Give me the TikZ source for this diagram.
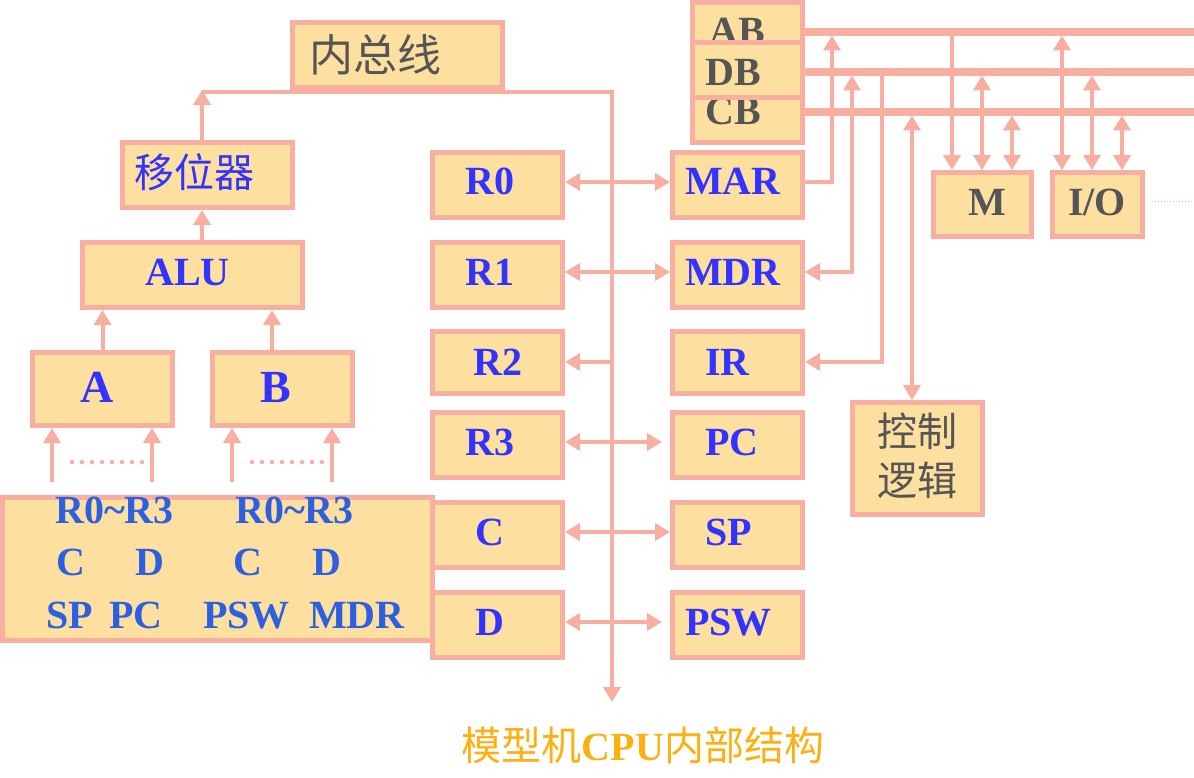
\documentclass[tikz,border=0pt]{standalone}
\usepackage{fontspec}
\setmainfont{Liberation Serif}
\newfontfamily\cjk{Noto Sans CJK SC}
\usetikzlibrary{arrows.meta}
\definecolor{edge}{RGB}{248,174,160}
\definecolor{boxfill}{RGB}{253,223,160}
\definecolor{regblue}{RGB}{51,51,255}
\definecolor{bigblue}{RGB}{45,95,225}
\definecolor{graytext}{RGB}{85,85,85}
\definecolor{titleorange}{RGB}{255,176,16}
\begin{document}
\begin{tikzpicture}[x=1pt,y=-1pt,
  box/.style={draw=edge, fill=boxfill, line width=5pt, inner sep=0pt},
  conn/.style={draw=edge, line width=4pt},
  busline/.style={draw=edge, line width=7.5pt},
  dotline/.style={draw=edge, line width=4.5pt, line cap=round, dash pattern=on 0pt off 10pt},
  >={Triangle[length=15pt,width=17pt]},
  regtext/.style={text=regblue, font=\fontsize{40}{40}\selectfont\bfseries, inner sep=0pt, anchor=base west},
  bigtext/.style={text=bigblue, font=\fontsize{40}{40}\selectfont\bfseries, inner sep=0pt, anchor=base west},
  graybold/.style={text=graytext, font=\fontsize{40}{40}\selectfont\bfseries, inner sep=0pt, anchor=base west},
  cjktext/.style={font=\fontsize{40}{49}\selectfont\cjk, inner sep=0pt, align=center}
]
\fill[white] (0,0) rectangle (1194,778);
\useasboundingbox (0,0) rectangle (1194,778);

% ---------- named coordinates (free ends) ----------
\coordinate (topL) at (202,92);
\coordinate (busTop) at (612,92);
\coordinate (busBot) at (612,702);
\coordinate (aIn1) at (52,482);
\coordinate (aIn2) at (152,482);
\coordinate (bIn1) at (232,482);
\coordinate (bIn2) at (332,482);
\coordinate (abEnd) at (1194,32);
\coordinate (dbEnd) at (1194,72);
\coordinate (cbEnd) at (1194,112);
\coordinate (abMAR) at (832,35.5);
\coordinate (dbMDR) at (852,75.5);
\coordinate (dbIR) at (882,72);
\coordinate (cbCtl) at (912,115.5);
\coordinate (abM) at (952,32);
\coordinate (dbM) at (982,75.5);
\coordinate (cbM) at (1012,115.5);
\coordinate (abIO) at (1062,35.5);
\coordinate (dbIO) at (1092,75.5);
\coordinate (cbIO) at (1122,115.5);
\coordinate (dotEnd) at (1194,202);

% ---------- internal bus ----------
\draw[conn,->] (topL) -- (busTop) -- (busBot);

% ---------- left part boxes ----------
\node[box, minimum width=210pt, minimum height=65pt] (nzx) at (397.5,55) {};
\node[cjktext, text=graytext, font=\fontsize{44}{44}\selectfont\cjk] at (375,55) {内总线};

\node[box, minimum width=170pt, minimum height=65pt] (shifter) at (207.5,175) {};
\node[cjktext, text=regblue] at (194,172) {移位器};

\node[box, minimum width=220pt, minimum height=65pt] (alu) at (192.5,275) {};
\node[regtext] at (145,285) {ALU};

\node[box, minimum width=140pt, minimum height=73pt] (a) at (102.5,389) {};
\node[regtext, font=\fontsize{46}{46}\selectfont\bfseries] at (80,402) {A};
\node[box, minimum width=140pt, minimum height=73pt] (b) at (282.5,389) {};
\node[regtext, font=\fontsize{46}{46}\selectfont\bfseries] at (260,402) {B};

\node[box, minimum width=430pt, minimum height=143pt] (big) at (217.5,569) {};
\node[bigtext] at (55,523) {R0\textasciitilde R3};
\node[bigtext] at (235,523) {R0\textasciitilde R3};
\node[bigtext] at (56,575) {C};
\node[bigtext] at (135,575) {D};
\node[bigtext] at (233,575) {C};
\node[bigtext] at (312,575) {D};
\node[bigtext] at (46,628) {SP};
\node[bigtext] at (109,628) {PC};
\node[bigtext] at (203,628) {PSW};
\node[bigtext] at (309,628) {MDR};

% ---------- register columns ----------
\node[box, minimum width=130pt, minimum height=65pt] (r0) at (497.5,185) {};
\node[box, minimum width=130pt, minimum height=65pt] (r1) at (497.5,275) {};
\node[box, minimum width=130pt, minimum height=62pt] (r2) at (497.5,362) {};
\node[box, minimum width=130pt, minimum height=65pt] (r3) at (497.5,445) {};
\node[box, minimum width=130pt, minimum height=65pt] (rc) at (497.5,535) {};
\node[box, minimum width=130pt, minimum height=65pt] (rd) at (497.5,625) {};
\node[regtext] at (465,195) {R0};
\node[regtext] at (465,285) {R1};
\node[regtext] at (473,375) {R2};
\node[regtext] at (465,455) {R3};
\node[regtext] at (475,545) {C};
\node[regtext] at (475,635) {D};

\node[box, minimum width=130pt, minimum height=65pt] (mar) at (737.5,185) {};
\node[box, minimum width=130pt, minimum height=65pt] (mdr) at (737.5,275) {};
\node[box, minimum width=130pt, minimum height=62pt] (ir) at (737.5,362) {};
\node[box, minimum width=130pt, minimum height=65pt] (pc) at (737.5,445) {};
\node[box, minimum width=130pt, minimum height=65pt] (sp) at (737.5,535) {};
\node[box, minimum width=130pt, minimum height=65pt] (psw) at (737.5,625) {};
\node[regtext] at (685,195) {MAR};
\node[regtext] at (685,285) {MDR};
\node[regtext] at (705,375) {IR};
\node[regtext] at (705,455) {PC};
\node[regtext] at (705,545) {SP};
\node[regtext] at (685,635) {PSW};

% ---------- system bus boxes ----------
\node[box, minimum width=110pt, minimum height=55pt] (ab) at (747.5,30) {};
\node[graybold] at (709,45) {AB};
\node[box, minimum width=110pt, minimum height=55pt] (cb) at (747.5,115) {};
\node[graybold] at (705,125) {CB};
\node[box, minimum width=110pt, minimum height=55pt] (db) at (747.5,70) {};
\node[graybold] at (705,86) {DB};

\node[box, minimum width=98pt, minimum height=64pt] (m) at (982.5,204.5) {};
\node[graybold] at (968,215) {M};
\node[box, minimum width=90pt, minimum height=64pt] (io) at (1097.5,204.5) {};
\node[graybold] at (1068,215) {I/O};

\node[box, minimum width=130pt, minimum height=112pt] (ctrl) at (917.5,458.5) {};
\node[cjktext, text=graytext] at (917.5,455.5) {控制\\逻辑};

% ---------- left connectors ----------
\draw[conn,->,shorten >=-2pt] (shifter.north -| topL) -- (topL);
\draw[conn,->] (alu.north -| topL) -- (topL |- shifter.south);
\draw[conn,->] (a.north) -- (a.north |- alu.south);
\draw[conn,->] ([xshift=-10.5pt]b.north) coordinate (bN) -- (bN |- alu.south);
\draw[conn,->] (aIn1) -- (aIn1 |- a.south);
\draw[conn,->] (aIn2) -- (aIn2 |- a.south);
\draw[conn,->] (bIn1) -- (bIn1 |- b.south);
\draw[conn,->] (bIn2) -- (bIn2 |- b.south);
\draw[dotline] (72,462) -- (145,462);
\draw[dotline] (252,462) -- (325,462);

% ---------- bus to registers ----------
\draw[conn,<->] ([yshift=3pt]r0.east) -- ([yshift=3pt]mar.west);
\draw[conn,<->] ([yshift=3pt]r1.east) -- ([yshift=3pt]mdr.west);
\draw[conn,->] (r2.east -| busTop) -- (r2.east);
\draw[conn,<->,shorten >=8pt] ([yshift=3pt]r3.east) -- ([yshift=3pt]pc.west);
\draw[conn,<->] ([yshift=3pt]rc.east) -- ([yshift=3pt]sp.west);
\draw[conn,<->,shorten >=8pt] ([yshift=3pt]rd.east) -- ([yshift=3pt]psw.west);

% ---------- system bus lines ----------
\draw[busline] (abEnd -| ab.east) -- (abEnd);
\draw[busline] (dbEnd -| db.east) -- (dbEnd);
\draw[busline] (cbEnd -| cb.east) -- (cbEnd);

\draw[conn,->] ([yshift=3pt]mar.east) -| (abMAR);
\draw[conn,<->] (dbMDR) |- ([yshift=3pt]mdr.east);
\draw[conn,->] (dbIR) |- (ir.east);
\draw[conn,<->] (cbCtl) -- (cbCtl |- ctrl.north);

\draw[conn,->] (abM) -- (abM |- m.north);
\draw[conn,<->] (dbM) -- (dbM |- m.north);
\draw[conn,<->] (cbM) -- (cbM |- m.north);
\draw[conn,<->] (abIO) -- (abIO |- io.north);
\draw[conn,<->] (dbIO) -- (dbIO |- io.north);
\draw[conn,<->] (cbIO) -- (cbIO |- io.north);

\draw[draw=edge, line width=1pt, dotted] ([xshift=7pt]io.east |- dotEnd) -- (dotEnd);

% ---------- caption ----------
\node[inner sep=0pt, text=titleorange, font=\fontsize{40}{40}\selectfont] at (643,745) {{\cjk 模型机}\textbf{CPU}{\cjk 内部结构}};
\end{tikzpicture}
\end{document}
